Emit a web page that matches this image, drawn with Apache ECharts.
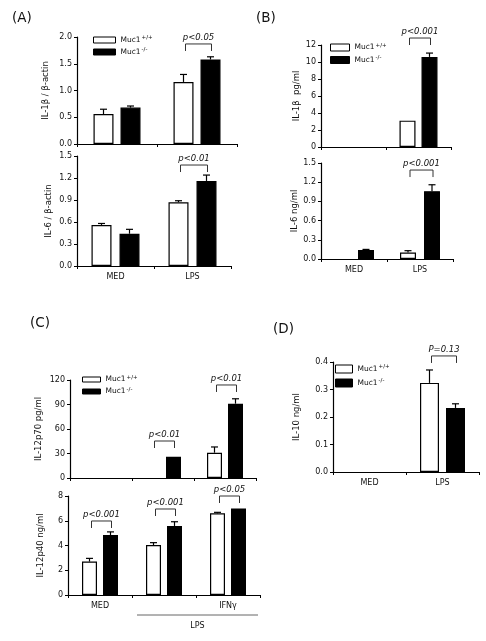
<!DOCTYPE html>
<html><head><meta charset="utf-8">
<script src="https://cdn.jsdelivr.net/npm/echarts@6/dist/echarts.min.js"></script>
<style>html,body{margin:0;padding:0;background:#fff}#c{width:486px;height:641px}</style>
</head><body><div id="c"></div>
<script>
// ---------- DATA ----------
const catsA = ['MED', 'LPS'];
const aIL1bWT = [0.56, 1.16], aIL1bWTErr = [0.09, 0.14];
const aIL1bKO = [0.68, 1.58], aIL1bKOErr = [0.03, 0.05];
const aIL6WT = [0.56, 0.87], aIL6WTErr = [0.02, 0.02];
const aIL6KO = [0.44, 1.16], aIL6KOErr = [0.06, 0.08];

const catsB = ['MED', 'LPS'];
const bIL1bWT = [0, 3.1], bIL1bWTErr = [0, 0];
const bIL1bKO = [0, 10.6], bIL1bKOErr = [0, 0.45];
const bIL6WT = [0, 0.10], bIL6WTErr = [0, 0.03];
const bIL6KO = [0.14, 1.06], bIL6KOErr = [0.01, 0.10];

const catsC = ['MED', '', 'IFNγ'];
const cP70WT = [0, 0, 31], cP70WTErr = [0, 0, 7];
const cP70KO = [0, 26, 91], cP70KOErr = [0, 0, 6];
const cP40WT = [2.7, 4.04, 6.6], cP40WTErr = [0.26, 0.19, 0.08];
const cP40KO = [4.85, 5.58, 7.0], cP40KOErr = [0.25, 0.34, 0];
const cGroupLabel = 'LPS';

const catsD = ['MED', 'LPS'];
const dIL10WT = [0, 0.324], dIL10WTErr = [0, 0.047];
const dIL10KO = [0, 0.233], dIL10KOErr = [0, 0.015];

// significance brackets: category index, bracket height (data units), text
const brA1Cat = [1], brA1Y = [1.87], brA1Text = ['p<0.05'];
const brA2Cat = [1], brA2Y = [1.377], brA2Text = ['p<0.01'];
const brB1Cat = [1], brB1Y = [12.82], brB1Text = ['p<0.001'];
const brB2Cat = [1], brB2Y = [1.39], brB2Text = ['p<0.001'];
const brC1Cat = [1, 2], brC1Y = [45.3, 113.9], brC1Text = ['p<0.01', 'p<0.01'];
const brC2Cat = [0, 1, 2], brC2Y = [5.98, 6.95, 8.0], brC2Text = ['p<0.001', 'p<0.001', 'p<0.05'];
const brDCat = [1], brDY = [0.422], brDText = ['P=0.13'];

const WT = 'Muc1+/+', KO = 'Muc1-/-';

// ---------- LAYOUT ----------
const FONT = '"DejaVu Sans", Verdana, sans-serif';
const panels = [
  {grid: {left: 77, top: 37, width: 160, height: 107}, cats: catsA, labels: false,
   y: {max: 2, interval: 0.5, dec: 1}, name: 'IL-1β / β-actin', nameGap: 27,
   wt: aIL1bWT, wtErr: aIL1bWTErr, ko: aIL1bKO, koErr: aIL1bKOErr, barW: 20, gap: 7,
   br: [brA1Cat, brA1Y, brA1Text], legend: {left: 93, top: 35, w: 22, h: 6, gap: 2}},
  {grid: {left: 77, top: 156, width: 154, height: 110}, cats: catsA, labels: true,
   y: {max: 1.5, interval: 0.3, dec: 1}, name: 'IL-6 / β-actin', nameGap: 24,
   wt: aIL6WT, wtErr: aIL6WTErr, ko: aIL6KO, koErr: aIL6KOErr, barW: 20, gap: 8,
   br: [brA2Cat, brA2Y, brA2Text]},
  {grid: {left: 321, top: 45, width: 130, height: 102}, cats: catsB, labels: false,
   y: {max: 12, interval: 2, dec: 0}, name: 'IL-1β  pg/ml', nameGap: 20,
   wt: bIL1bWT, wtErr: bIL1bWTErr, ko: bIL1bKO, koErr: bIL1bKOErr, barW: 16, gap: 6,
   br: [brB1Cat, brB1Y, brB1Text], legend: {left: 330, top: 42.5, w: 19, h: 7, gap: 2.5}},
  {grid: {left: 321, top: 163, width: 132, height: 96}, cats: catsB, labels: true,
   y: {max: 1.5, interval: 0.3, dec: 1}, name: 'IL-6 ng/ml', nameGap: 21,
   wt: bIL6WT, wtErr: bIL6WTErr, ko: bIL6KO, koErr: bIL6KOErr, barW: 16, gap: 8,
   br: [brB2Cat, brB2Y, brB2Text]},
  {grid: {left: 70, top: 380, width: 186, height: 98}, cats: catsC, labels: false,
   y: {max: 120, interval: 30, dec: 0}, name: 'IL-12p70 pg/ml', nameGap: 27,
   wt: cP70WT, wtErr: cP70WTErr, ko: cP70KO, koErr: cP70KOErr, barW: 15, gap: 6,
   br: [brC1Cat, brC1Y, brC1Text], legend: {left: 82, top: 374.5, w: 18, h: 5, gap: 2}},
  {grid: {left: 68, top: 496, width: 192, height: 99}, cats: catsC, labels: true,
   y: {max: 8, interval: 2, dec: 0}, name: 'IL-12p40 ng/ml', nameGap: 23,
   wt: cP40WT, wtErr: cP40WTErr, ko: cP40KO, koErr: cP40KOErr, barW: 15, gap: 6,
   br: [brC2Cat, brC2Y, brC2Text], group: true},
  {grid: {left: 333, top: 362, width: 146, height: 110}, cats: catsD, labels: true,
   y: {max: 0.4, interval: 0.1, dec: 1}, name: 'IL-10 ng/ml', nameGap: 32,
   wt: dIL10WT, wtErr: dIL10WTErr, ko: dIL10KO, koErr: dIL10KOErr, barW: 19, gap: 7,
   br: [brDCat, brDY, brDText], legend: {left: 335, top: 364, w: 17, h: 8, gap: 4}}
];

function errRender(half) {
  return function (params, api) {
    const cat = api.value(0), v = api.value(1), e = api.value(2), s = api.value(3);
    const base = api.coord([cat, v]);
    const top = api.coord([cat, v + e]);
    const x = base[0] + (s === 0 ? -half : half);
    return {type: 'group', children: [
      {type: 'line', shape: {x1: x, y1: base[1], x2: x, y2: top[1]}, style: {stroke: '#000', lineWidth: 1.2}},
      {type: 'line', shape: {x1: x - 3.5, y1: top[1], x2: x + 3.5, y2: top[1]}, style: {stroke: '#000', lineWidth: 1.2}}
    ]};
  };
}
function brRender(half, texts) {
  return function (params, api) {
    const p = api.coord([api.value(0), api.value(1)]);
    const x0 = p[0] - half + 2, x1 = p[0] + half + 1, leg = 7;
    return {type: 'group', children: [
      {type: 'polyline', shape: {points: [[x0, p[1] + leg], [x0, p[1]], [x1, p[1]], [x1, p[1] + leg]]},
       style: {stroke: '#333', lineWidth: 1, fill: 'none'}},
      {type: 'text', style: {text: texts[params.dataIndex], x: (x0 + x1) / 2, y: p[1] - 2,
        align: 'center', verticalAlign: 'bottom', font: 'italic 8.5px ' + FONT, fill: '#111'}}
    ]};
  };
}
function groupRender(params, api) {
  const a = api.coord([api.value(0), 0]), b = api.coord([api.value(1), 0]);
  const bw = api.size([1, 0])[0];
  const x0 = a[0] - bw / 2 + 5, x1 = b[0] + bw / 2 - 2, y = a[1] + 20;
  return {type: 'group', children: [
    {type: 'line', shape: {x1: x0, y1: y, x2: x1, y2: y}, style: {stroke: '#666', lineWidth: 1}},
    {type: 'text', style: {text: cGroupLabel, x: (x0 + x1) / 2, y: y + 11, align: 'center',
      verticalAlign: 'middle', font: '8px ' + FONT, fill: '#111'}}
  ]};
}
// zero values are not drawn as bars (nothing visible in the original)
const barVals = arr => arr.map(v => (v === 0 ? '-' : v));

const grid = [], xAxis = [], yAxis = [], series = [], legend = [];
panels.forEach((p, i) => {
  grid.push(Object.assign({containLabel: false}, p.grid));
  xAxis.push({type: 'category', gridIndex: i, data: p.cats,
    axisLine: {lineStyle: {color: '#000', width: 1.2}},
    axisTick: {show: true, length: 3, lineStyle: {color: '#000', width: 1}},
    axisLabel: {show: p.labels, fontSize: 8, fontFamily: FONT, color: '#111', margin: 7, interval: 0},
    splitLine: {show: false}});
  yAxis.push({type: 'value', gridIndex: i, min: 0, max: p.y.max, interval: p.y.interval,
    name: p.name, nameLocation: 'middle', nameGap: p.nameGap, nameRotate: 90,
    nameTextStyle: {fontSize: 8.5, fontFamily: FONT, color: '#111'},
    axisLine: {show: true, lineStyle: {color: '#000', width: 1.2}},
    axisTick: {show: true, length: 3, lineStyle: {color: '#000', width: 1}},
    axisLabel: {fontSize: 8, fontFamily: FONT, color: '#111', margin: 5,
      formatter: v => v.toFixed(p.y.dec)},
    splitLine: {show: false}});
  const gapPct = (p.gap / p.barW * 100) + '%';
  series.push({type: 'bar', name: WT, xAxisIndex: i, yAxisIndex: i, data: barVals(p.wt), barWidth: p.barW,
    barGap: gapPct, itemStyle: {color: '#fff', borderColor: '#000', borderWidth: 1.2}, silent: true, z: 2});
  series.push({type: 'bar', name: KO, xAxisIndex: i, yAxisIndex: i, data: barVals(p.ko), barWidth: p.barW,
    barGap: gapPct, itemStyle: {color: '#000', borderColor: '#000', borderWidth: 1.2}, silent: true, z: 2});
  const half = (p.barW + p.gap) / 2;
  const errData = [];
  p.wt.forEach((v, k) => { if (p.wtErr[k] > 0) errData.push([k, v, p.wtErr[k], 0]); });
  p.ko.forEach((v, k) => { if (p.koErr[k] > 0) errData.push([k, v, p.koErr[k], 1]); });
  series.push({type: 'custom', xAxisIndex: i, yAxisIndex: i, data: errData, renderItem: errRender(half),
    clip: false, silent: true, z: 3});
  const brData = p.br[0].map((c, k) => [c, p.br[1][k]]);
  series.push({type: 'custom', xAxisIndex: i, yAxisIndex: i, data: brData, renderItem: brRender(half, p.br[2]),
    clip: false, silent: true, z: 3});
  if (p.group) {
    series.push({type: 'custom', xAxisIndex: i, yAxisIndex: i, data: [[1, 2]], renderItem: groupRender,
      clip: false, silent: true, z: 3});
  }
  if (p.legend) {
    const L = p.legend;
    legend.push({data: [WT, KO], orient: 'vertical', left: L.left, top: L.top, padding: 0,
      itemWidth: L.w, itemHeight: L.h, itemGap: L.gap, icon: 'rect', selectedMode: false,
      itemStyle: {borderWidth: 1},
      formatter: n => n === WT ? '{b|Muc1}{s|+/+}' : '{b|Muc1}{s|-/-}',
      textStyle: {fontFamily: FONT, color: '#111', lineHeight: 10,
        rich: {b: {fontSize: 7.5, fontFamily: FONT, color: '#111', lineHeight: 10},
               s: {fontSize: 5.5, fontFamily: FONT, color: '#111', verticalAlign: 'top', lineHeight: 10, padding: [0, 0, 3, 1]}}}});
  }
});

const chart = echarts.init(document.getElementById('c'), null, {renderer: 'canvas'});
chart.setOption({
  animation: false,
  backgroundColor: '#fff',
  grid, xAxis, yAxis, series, legend,
  graphic: [
    {type: 'text', x: 12, y: 18, style: {text: '(A)', font: '13.5px ' + FONT, fill: '#111', verticalAlign: 'middle'}},
    {type: 'text', x: 256, y: 18, style: {text: '(B)', font: '13.5px ' + FONT, fill: '#111', verticalAlign: 'middle'}},
    {type: 'text', x: 30, y: 323, style: {text: '(C)', font: '13.5px ' + FONT, fill: '#111', verticalAlign: 'middle'}},
    {type: 'text', x: 273, y: 329, style: {text: '(D)', font: '13.5px ' + FONT, fill: '#111', verticalAlign: 'middle'}}
  ]
});
</script></body></html>
